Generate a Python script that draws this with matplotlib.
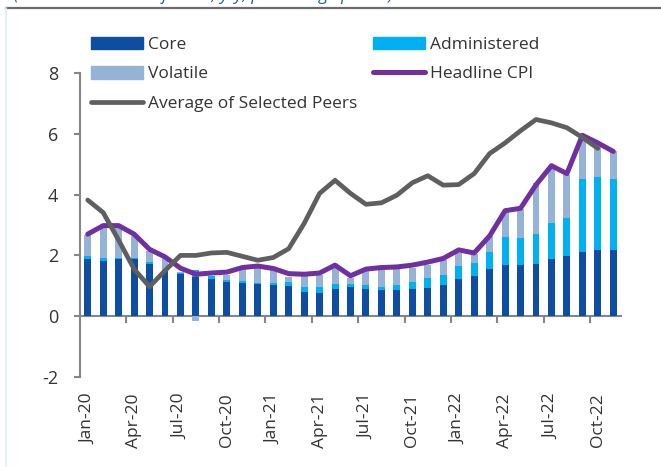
import numpy as np
import matplotlib
matplotlib.use("Agg")
import matplotlib.pyplot as plt
from matplotlib.patches import Patch
from matplotlib.lines import Line2D

plt.rcParams['font.family'] = ['Open Sans', 'DejaVu Sans']

# monthly, Jan-20 .. Nov-22
months = ["Jan-20", "Feb-20", "Mar-20", "Apr-20", "May-20", "Jun-20", "Jul-20", "Aug-20",
          "Sep-20", "Oct-20", "Nov-20", "Dec-20", "Jan-21", "Feb-21", "Mar-21", "Apr-21",
          "May-21", "Jun-21", "Jul-21", "Aug-21", "Sep-21", "Oct-21", "Nov-21", "Dec-21",
          "Jan-22", "Feb-22", "Mar-22", "Apr-22", "May-22", "Jun-22", "Jul-22", "Aug-22",
          "Sep-22", "Oct-22", "Nov-22"]

core = [1.88, 1.82, 1.89, 1.88, 1.73, 1.49, 1.38, 1.29, 1.22, 1.13, 1.10, 1.07,
        1.02, 0.98, 0.80, 0.77, 0.90, 0.96, 0.91, 0.86, 0.86, 0.89, 0.94, 1.02,
        1.21, 1.33, 1.56, 1.70, 1.69, 1.72, 1.87, 1.98, 2.10, 2.17, 2.17]
administered = [0.09, 0.09, 0.03, 0.02, 0.05, 0.04, 0.05, 0.22, 0.11, 0.07, 0.07, 0.03,
                0.08, 0.15, 0.16, 0.19, 0.15, 0.09, 0.11, 0.10, 0.16, 0.24, 0.32, 0.33,
                0.43, 0.42, 0.56, 0.89, 0.88, 0.98, 1.20, 1.25, 2.41, 2.40, 2.34]
volatile = [0.69, 1.03, 1.02, 0.73, 0.37, 0.37, 0.03, -0.15, 0.00, 0.14, 0.37, 0.50,
            0.41, 0.16, 0.39, 0.41, 0.55, 0.22, 0.47, 0.64, 0.58, 0.47, 0.42, 0.49,
            0.44, 0.29, 0.51, 0.84, 0.97, 1.67, 1.79, 1.41, 1.34, 1.03, 0.93]
headline = [2.70, 2.98, 2.98, 2.70, 2.20, 1.95, 1.58, 1.38, 1.42, 1.45, 1.60, 1.65,
            1.57, 1.40, 1.38, 1.42, 1.68, 1.33, 1.55, 1.60, 1.62, 1.68, 1.78, 1.90,
            2.18, 2.08, 2.64, 3.47, 3.55, 4.32, 4.95, 4.69, 5.95, 5.70, 5.42]
# peers average ends at Oct-22
peers = [3.82, 3.41, 2.50, 1.55, 0.97, 1.50, 2.00, 2.00, 2.08, 2.10, 1.97, 1.84,
         1.93, 2.22, 3.05, 4.04, 4.47, 4.04, 3.68, 3.73, 3.98, 4.39, 4.62, 4.31,
         4.33, 4.69, 5.35, 5.70, 6.10, 6.47, 6.36, 6.20, 5.88, 5.52]

c_core = "#0D4EA0"
c_adm = "#00B0F0"
c_vol = "#95B3D7"
c_head = "#7030A0"
c_peer = "#5F5F5F"
c_axis = "#868686"
c_text = "#333333"

fig = plt.figure(figsize=(6.61, 4.67), dpi=100)
ax = fig.add_axes([80/661, 1-377/467, (621-80)/661, (377-73)/467])

x = np.arange(len(months))
w = 0.45

# stack like excel: positives up from 0, negatives down from 0
pos = np.zeros(len(x))
neg = np.zeros(len(x))
for vals, col in [(core, c_core), (administered, c_adm), (volatile, c_vol)]:
    v = np.array(vals)
    bottom = np.where(v >= 0, pos, neg)
    ax.bar(x, v, w, bottom=bottom, color=col, zorder=2)
    pos = pos + np.where(v >= 0, v, 0)
    neg = neg + np.where(v < 0, v, 0)

ax.plot(x, headline, color=c_head, lw=3.6, solid_joinstyle="round", solid_capstyle="round", zorder=3)
ax.plot(x[:len(peers)], peers, color=c_peer, lw=3.4, solid_joinstyle="round", solid_capstyle="round", zorder=4)

ax.set_xlim(-0.5, len(x) - 0.5)
ax.set_ylim(-2, 8)
ax.set_yticks([-2, 0, 2, 4, 6, 8])
ax.set_yticklabels(["-2", "0", "2", "4", "6", "8"])

for s in ["top", "right", "bottom"]:
    ax.spines[s].set_visible(False)
ax.spines["left"].set_color(c_axis)
ax.spines["left"].set_linewidth(1.5)
ax.tick_params(axis="y", direction="out", length=4.5, width=1.5, color=c_axis,
               pad=11, labelsize=13, labelcolor=c_text)

# labels sit at the bottom, tick marks on the zero line
ax.set_xticks(x[::3])
ax.set_xticklabels(months[::3], rotation=90)
ax.tick_params(axis="x", length=0, pad=12, labelsize=12.5, labelcolor=c_text)

sec = ax.secondary_xaxis(0.2)
sec.set_xticks(np.arange(2.5, len(x), 3))
sec.set_xticklabels([])
sec.tick_params(axis="x", direction="out", length=5, width=1.5, color=c_axis)
sec.spines["bottom"].set_color(c_axis)
sec.spines["bottom"].set_linewidth(1.5)

handles = [Patch(color=c_core), Patch(color=c_vol),
           Line2D([], [], color=c_peer, lw=3.4, solid_capstyle="round"),
           Patch(color=c_adm),
           Line2D([], [], color=c_head, lw=3.6, solid_capstyle="round")]
labels = ["Core", "Volatile", "Average of Selected Peers", "Administered", "Headline CPI"]
fig.legend(handles, labels, ncol=2, loc="upper left", bbox_to_anchor=(91/661, 1-37/467),
           frameon=False, fontsize=12.5, handlelength=3.0, handletextpad=0.3,
           columnspacing=0.9, labelspacing=0.76, borderpad=0, borderaxespad=0,
           labelcolor=c_text)

# panel frame bits and the clipped heading above it
fig.add_artist(Line2D([6/661, 1], [1-7.5/467, 1-7.5/467], color="#6B6B6B", lw=1.6))
fig.add_artist(Line2D([6/661, 6/661], [0, 1-8/467], color="#DDEFF8", lw=1.2))
fig.text(14/661, 1.0, "(Contributions to inflation, y/y, percentage points)",
         fontsize=12.5, style="italic", color="#1F5FA8", va="baseline")

fig.savefig("out.png", dpi=100)
